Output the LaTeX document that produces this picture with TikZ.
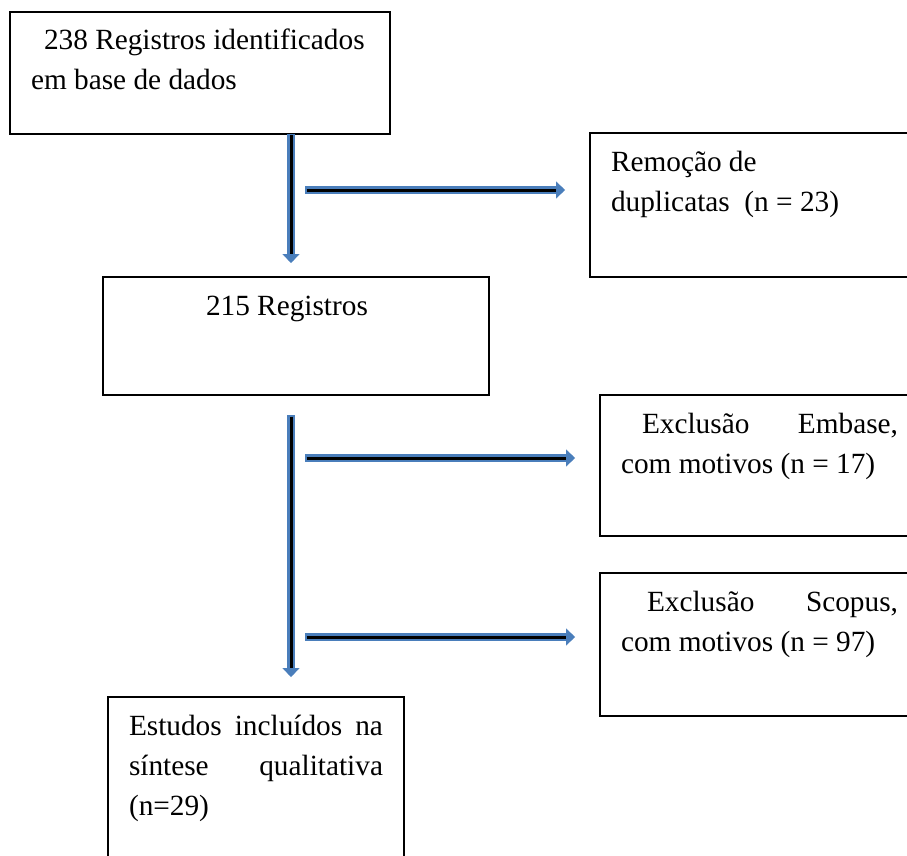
\documentclass[tikz,border=0pt]{standalone}
\usepackage{fontspec}
\setmainfont{Liberation Serif}
\usetikzlibrary{arrows.meta}
\definecolor{flowblue}{RGB}{74,126,187}
\newcommand{\boxtext}[3]{\parbox[t][#2][t]{#1}{\strut#3}}

\begin{document}
\begin{tikzpicture}[x=1pt,y=-1pt,
        box/.style={draw,line width=2pt,anchor=north west,outer sep=0pt,inner xsep=21pt,inner ysep=10pt,font=\fontsize{29.3pt}{40pt}\selectfont},
        flow/.style={draw=flowblue,line width=8pt,-{Triangle[width=17pt,length=9pt,line width=0.1pt]},postaction={draw=black,line width=3pt,-,shorten >=9pt,shorten <=1.5pt}}]
        \useasboundingbox(0,0)rectangle(907,856);

        \node[box](reg)at(10,12){\boxtext{338pt}{102pt}{\hspace*{13pt}238 Registros identificados\\em base de dados}};
        \node[box](dup)at(590,133){\boxtext{288pt}{124pt}{Remoção de\\duplicatas~ (n = 23)}};
        \node[box](reg2)at(103,277){\boxtext{344pt}{98pt}{\hspace*{82pt}215 Registros}};
        \node[box](emb)at(600,395){\boxtext{277pt}{121pt}{\hspace*{21pt}Exclusão\hfill Embase,\\com motivos (n = 17)}};
        \node[box](sco)at(600,573){\boxtext{277pt}{123pt}{\hspace*{26pt}Exclusão\hfill Scopus,\\com motivos (n = 97)}};
        \node[box](inc)at(108,697){\boxtext{254pt}{155pt}{Estudos\hfill incluídos\hfill na\\síntese\hfill qualitativa\\(n=29)}};

        \coordinate(v)at(291,0);
        \coordinate(h1)at(305,190);
        \coordinate(h2)at(305,458);
        \coordinate(h3)at(305,637);

        \draw[flow](reg.south-|v)--([yshift=14pt]reg2.north-|v);
        \draw[flow](h1)--([xshift=-25pt]dup.west|-h1);
        \draw[flow]([yshift=-20pt]reg2.south-|v)--([yshift=20pt]inc.north-|v);
        \draw[flow](h2)--([xshift=-25pt]emb.west|-h2);
        \draw[flow](h3)--([xshift=-25pt]sco.west|-h3);
    \end{tikzpicture}
\end{document}
